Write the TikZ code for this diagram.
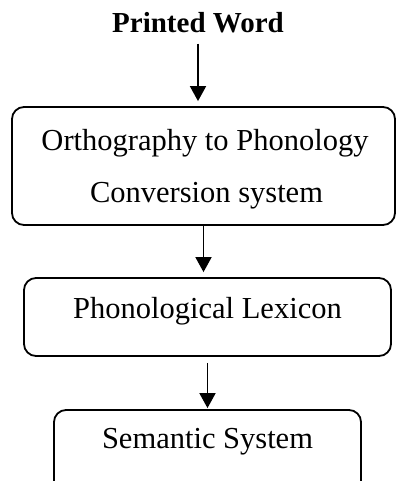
\documentclass[tikz,border=0pt]{standalone}
\usepackage{fontspec}
\setmainfont{Liberation Serif}
\usetikzlibrary{arrows.meta}
\begin{document}
\begin{tikzpicture}[x=1pt,y=-1pt,
  box/.style={draw, line width=1.8pt, rounded corners=12pt, inner sep=0pt},
  lbl/.style={font=\fontsize{30.5}{36}\selectfont, anchor=base, inner sep=0pt},
  arr/.style={line width=1.8pt, -{Triangle[width=16pt,length=15pt]}}]
\useasboundingbox (0,0) rectangle (396,481);
\node[font=\bfseries\fontsize{29}{34}\selectfont, anchor=base, inner sep=0pt] (title) at (198,33) {Printed Word};
\node[box, minimum width=383pt, minimum height=118pt] (ortho) at (203.5,166) {};
\node[lbl] (ortho1) at (205,150) {Orthography to Phonology};
\node[lbl] (ortho2) at (206.5,202) {Conversion system};
\node[box, minimum width=367pt, minimum height=78pt] (phon) at (207.5,317) {};
\node[lbl] (phonl) at (207.5,318) {Phonological Lexicon};
\node[box, minimum width=307pt, minimum height=90pt] (sem) at (207.5,455) {};
\node[lbl] (seml) at (207.5,448) {Semantic System};
\draw[arr, shorten <=10pt, shorten >=5pt] (title.south) -- (title.south |- ortho.north);
\draw[arr, shorten >=5pt] (ortho.south) -- (ortho.south |- phon.north);
\draw[arr, shorten <=6pt, shorten >=1pt] (phon.south) -- (phon.south |- sem.north);
\end{tikzpicture}
\end{document}
